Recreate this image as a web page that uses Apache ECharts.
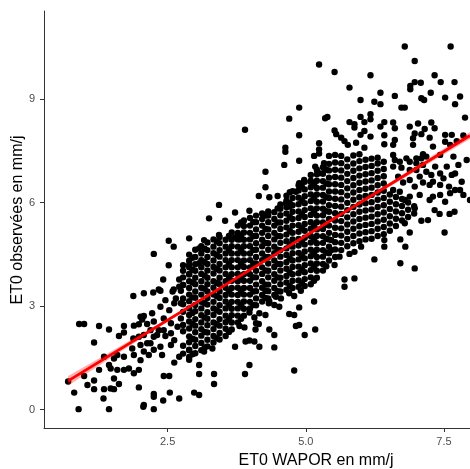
<!DOCTYPE html>
<html>
<head>
<meta charset="utf-8">
<script src="https://cdn.jsdelivr.net/npm/echarts@6/dist/echarts.min.js"></script>
<style>
html, body { margin: 0; padding: 0; background: #fff; }
#main { width: 470px; height: 469px; }
</style>
</head>
<body>
<div id="main"></div>
<script>
// ticks
var xTicks = [2.5, 5.0, 7.5];
var yTicks = [0, 3, 6, 9];

// points outside the dense core (ET0 WAPOR, ET0 observees)
var outerPoints = [
	[1.88,3.29],[2.07,3.37],[2.24,3.39],[2.37,3.44],[2.59,3.42],[2.74,3.44],
	[0.90,2.48],[0.99,2.48],[1.26,2.42],[1.44,2.32],[1.71,2.42],[1.89,2.43],[2.04,2.61],[2.01,2.69],[2.07,2.71],[2.22,2.79],[2.13,2.48],[1.98,2.47],
	[1.62,2.13],[1.71,2.23],[1.88,2.06],[1.98,2.11],[2.07,2.16],
	[1.17,1.94],[1.35,1.53],[1.53,1.48],[1.59,1.58],[1.71,1.53],[1.86,1.77],[1.89,1.58],[2.01,1.43],[2.07,1.68],[2.19,1.92],[2.25,1.73],[2.16,1.58],
	[1.44,1.29],[1.47,1.19],[1.59,1.15],[1.71,1.15],[1.80,1.19],[1.89,1.05],[1.98,1.15],[1.26,1.15],
	[0.99,0.97],[1.05,0.71],[1.17,0.59],[1.17,0.84],[1.35,0.59],[1.47,0.61],[1.53,0.59],[1.53,0.90],[1.62,0.74],
	[0.70,0.81],[0.81,0.49],[0.89,0.01],[1.34,0.32],[1.44,0.01],[1.98,0.64],[2.07,0.13],[2.06,0.08],[2.25,0.45],[2.25,0.37],[2.25,0.01],[2.42,0.26],[2.54,0.49],[2.71,0.32],
	[2.62,1.36],[2.71,1.53],[2.43,0.97],[2.53,0.97],
	[2.37,1.82],[2.40,1.58],[2.56,1.87],[2.62,2.01],[2.31,2.16],[2.46,2.13],[2.56,2.21],[2.43,2.30],[2.56,2.50],[2.68,2.40],[2.74,2.64],[2.43,2.64],[2.53,2.88],[2.62,3.08],[2.74,3.08],[2.65,3.22],[2.37,2.98],[2.46,3.17],
	[2.25,2.55],[2.34,2.30],[2.19,2.30],[2.25,2.11],[2.13,1.92],[2.01,1.87],
	[2.52,4.89],[2.61,4.72],[2.25,4.51],[2.52,4.18],[2.42,3.77],[2.71,3.77],[2.34,3.48],[2.61,3.48],[2.71,3.56],[2.78,3.61],
	[4.27,3.44],[4.46,3.27],[4.55,3.22],[4.70,3.37],[4.79,3.29],[4.91,3.44],[5.15,3.13],[4.33,3.08],[4.43,3.03],[4.52,2.98],[4.34,3.13],[4.88,2.96],[4.70,2.77],[4.79,2.74],
	[3.98,2.81],[4.07,2.67],[4.16,2.79],[4.27,2.74],[4.10,2.50],[4.15,2.48],[3.80,2.42],[3.89,2.38],[4.09,2.32],[4.34,2.32],[4.43,2.16],[4.82,2.42],[4.88,2.45],[5.17,2.32],[4.98,2.16],
	[3.91,1.97],[3.98,2.00],[4.07,1.97],[4.16,1.82],[4.43,1.80],[3.72,1.82],[3.31,1.77],[3.16,1.68],[2.89,1.72],[2.89,1.44],[3.07,1.29],[3.07,1.03],[3.34,1.03],[3.34,0.74],[3.90,1.03],[3.98,1.29],[4.79,1.13],[2.98,0.49],[3.07,0.42],
	[4.63,7.47],[5.15,7.35],[5.24,7.42],[4.61,7.09],[4.88,7.21],[5.17,7.04],[5.33,7.14],[4.27,6.89],[4.27,6.44],[4.15,6.19],[4.34,6.15],[4.49,6.19],[4.64,5.98],[4.70,5.88],
	[3.43,5.93],[3.72,5.71],[3.98,5.76],[3.25,5.54],[3.54,5.47],[2.89,4.96],[3.07,4.67],[3.16,4.91],[3.43,5.06],[3.72,4.99],[3.80,4.93],[2.89,4.19],[2.89,3.93],[3.07,4.24],
	[4.82,6.31],[4.88,6.56],[4.97,6.65],[5.09,6.60],[5.24,6.85],[5.33,6.99],
	[5.24,10.00],[4.88,8.75],[4.70,8.43],[5.35,8.44],[5.39,8.48],[3.90,8.11],[4.88,7.95],[4.63,7.59],[5.24,7.72],[5.24,7.54],
	[6.79,10.52],[7.62,10.52],[6.97,10.10],[5.52,9.78],[6.17,9.69],[7.33,9.69],[7.44,9.49],[7.69,9.49],[6.97,9.49],[7.08,9.47],[6.89,9.38],[6.89,9.28],[5.79,9.33],[6.35,9.18],[7.26,9.18],[6.61,9.09],
	[5.99,8.97],[6.24,8.92],[6.35,8.85],[5.99,8.48],[6.17,8.56],[6.17,8.41],[5.79,8.33],[5.88,8.27],[5.88,8.17],[6.06,8.33],[6.42,8.33],[5.52,8.09],[5.55,7.98],[5.64,7.88],[5.99,7.96],[6.06,8.07],[6.17,7.91],[6.35,8.20],[6.42,7.95],[5.70,7.78],[5.76,7.67],[5.91,7.73],[6.06,7.59],[6.42,7.69],
	[7.69,5.73],[7.60,5.67],[7.42,5.67],[7.51,5.13],[7.21,5.49],[7.09,5.47],[6.97,5.83],[6.88,5.13],[6.80,4.72],[6.71,4.93],[6.71,4.24],[6.97,4.09],[6.24,4.35],[5.88,4.57],[5.79,4.51],[5.61,4.43],[5.52,4.19],[5.70,3.77],[5.88,3.80],[5.70,3.56],[5.46,4.62],[5.46,4.91],[6.00,4.72],[6.42,4.72],[6.42,4.91],[6.79,5.40],[7.33,5.78],
	[7.09,9.02],[7.14,8.97],[7.52,9.04],[7.79,9.07],[7.70,8.85],[6.73,8.75],[6.79,8.75],[7.88,8.46],[6.58,8.32],[6.61,8.15],[6.88,8.20],[7.03,8.29],[7.15,8.13],[7.27,8.32],[7.33,8.15],[6.97,8.00],[7.09,7.98],[6.94,7.86],[7.24,7.88],[7.52,7.96],[7.64,7.96],[7.85,7.94],
	[6.61,7.81],[6.58,7.67],[6.94,7.67],[7.30,7.62],[7.52,7.76],[7.61,7.67],[7.73,7.78],[7.12,7.40],[7.09,7.28],[6.58,7.38],[6.61,7.23],[6.70,7.18],[6.82,7.28],[6.88,7.18],[7.00,7.14],[7.12,7.09],[7.43,7.38],[7.67,7.33],
	[6.58,7.04],[6.73,7.01],[7.00,6.94],[7.18,6.89],[7.27,6.80],[7.43,6.84],[7.49,6.70],[7.64,6.80],[7.70,6.84],[7.82,6.60],[7.06,6.75],[7.12,6.58],[6.76,6.58],[6.88,6.65],
	[6.58,6.36],[6.70,6.31],[6.97,6.46],[7.24,6.51],[7.43,6.51],[7.59,6.46],[7.70,6.36],[6.88,6.17],[7.06,6.22],[7.30,6.17],[7.43,6.22],[7.61,6.27],[7.85,6.22],[7.97,6.07],
	[7.00,7.28],[7.18,7.33],[6.88,6.94],[7.34,7.04],[7.55,7.04],[7.76,7.09],[7.91,7.23],[6.67,6.75],[7.30,6.60],[7.79,6.36],[6.79,6.07],[7.24,6.07],[7.52,6.02]
];

// dense core, read column by column: [ET0 WAPOR, [ET0 observees ...]]
var denseCols = [
	[2.78, [1.62,1.85,2.27,2.45,2.83,3.05,3.22,3.61,3.83,4.02,4.18]],
	[2.89, [1.52,1.73,1.95,2.12,2.35,2.55,2.74,2.93,3.14,3.33,3.52,3.72,3.91,4.12,4.31,4.49]],
	[2.95, [1.60,2.05,2.48,2.80,3.25,3.68,4.05,4.40]],
	[3.00, [1.63,1.84,2.02,2.24,2.43,2.62,2.85,3.03,3.24,3.42,3.63,3.82,4.02,4.21,4.42,4.63]],
	[3.11, [1.72,1.93,2.14,2.33,2.52,2.73,2.93,3.12,3.33,3.53,3.72,3.93,4.12,4.33,4.52,4.73]],
	[3.17, [1.80,2.25,2.67,3.08,3.50,3.88,4.27,4.66]],
	[3.22, [1.83,2.02,2.23,2.44,2.63,2.82,3.04,3.23,3.42,3.63,3.82,4.03,4.22,4.42,4.62,4.84]],
	[3.33, [1.94,2.13,2.33,2.52,2.74,2.93,3.12,3.33,3.53,3.72,3.94,4.13,4.32,4.53,4.72,4.93]],
	[3.39, [2.07,2.47,2.88,3.28,3.67,4.08,4.48,4.87]],
	[3.44, [2.03,2.22,2.43,2.62,2.83,3.02,3.23,3.42,3.63,3.82,4.03,4.22,4.43,4.62,4.82,5.00]],
	[3.55, [2.13,2.34,2.53,2.72,2.93,3.13,3.32,3.53,3.72,3.93,4.12,4.33,4.52,4.72,4.92]],
	[3.61, [2.25,2.62,3.03,3.43,3.82,4.22,4.62,5.03]],
	[3.66, [2.32,2.52,2.73,2.92,3.12,3.33,3.52,3.73,3.92,4.12,4.33,4.52,4.73,4.92,5.13]],
	[3.77, [2.52,2.72,2.93,3.12,3.32,3.53,3.72,3.93,4.12,4.33,4.52,4.72,4.93,5.12,5.33]],
	[3.83, [2.63,3.02,3.43,3.83,4.22,4.62,5.03,5.42]],
	[3.88, [2.72,2.92,3.13,3.33,3.52,3.73,3.92,4.13,4.32,4.52,4.73,4.92,5.13,5.32,5.48]],
	[3.99, [2.93,3.12,3.33,3.52,3.73,3.92,4.12,4.33,4.52,4.73,4.93,5.12,5.33,5.55]],
	[4.05, [3.03,3.42,3.83,4.23,4.62,5.02,5.43]],
	[4.10, [3.02,3.22,3.43,3.62,3.83,4.02,4.23,4.42,4.63,4.82,5.03,5.22,5.43,5.62]],
	[4.21, [3.13,3.32,3.53,3.72,3.93,4.12,4.33,4.52,4.73,4.92,5.12,5.33,5.52,5.68]],
	[4.27, [3.23,3.62,4.03,4.42,4.83,5.23,5.62]],
	[4.32, [3.22,3.43,3.62,3.83,4.02,4.23,4.42,4.63,4.82,5.03,5.22,5.43,5.62,5.74]],
	[4.43, [3.32,3.52,3.73,3.92,4.13,4.32,4.53,4.72,4.93,5.12,5.33,5.52,5.72]],
	[4.49, [3.43,3.83,4.22,4.63,5.03,5.42,5.83]],
	[4.54, [3.42,3.63,3.82,4.03,4.22,4.43,4.62,4.83,5.02,5.23,5.42,5.63,5.82,5.94]],
	[4.65, [3.47,3.68,3.87,4.08,4.27,4.48,4.67,4.88,5.07,5.28,5.47,5.68,5.87,6.05,6.20]],
	[4.71, [3.58,3.98,4.38,4.78,5.18,5.58,5.98,6.30]],
	[4.76, [3.52,3.73,3.92,4.13,4.32,4.53,4.72,4.93,5.12,5.33,5.52,5.73,5.92,6.13,6.33]],
	[4.87, [3.55,3.74,3.95,4.14,4.35,4.54,4.75,4.94,5.15,5.34,5.55,5.74,5.95,6.14,6.35,6.50]],
	[4.93, [3.65,4.05,4.45,4.85,5.25,5.65,6.05,6.45]],
	[4.98, [3.58,3.78,3.98,4.18,4.38,4.58,4.78,4.98,5.18,5.38,5.58,5.78,5.98,6.18,6.38,6.60]],
	[5.09, [3.63,3.83,4.04,4.23,4.44,4.63,4.84,5.03,5.24,5.43,5.64,5.83,6.04,6.23,6.44,6.63,6.80]],
	[5.15, [3.73,4.13,4.53,4.93,5.33,5.73,6.13,6.53]],
	[5.20, [3.82,4.02,4.23,4.42,4.63,4.82,5.03,5.22,5.43,5.62,5.83,6.02,6.23,6.42,6.63,6.82,6.95]],
	[5.31, [4.03,4.22,4.43,4.62,4.83,5.02,5.23,5.42,5.63,5.82,6.03,6.22,6.43,6.62,6.83,7.02]],
	[5.37, [4.15,4.55,4.95,5.35,5.75,6.15,6.55,6.95]],
	[5.42, [4.32,4.53,4.72,4.93,5.12,5.33,5.52,5.73,5.92,6.13,6.32,6.53,6.72,6.93,7.12,7.35]],
	[5.53, [4.42,4.64,4.85,5.06,5.27,5.48,5.69,5.90,6.11,6.32,6.53,6.74,6.95,7.16,7.38]],
	[5.64, [4.62,4.83,5.04,5.25,5.46,5.67,5.88,6.09,6.30,6.51,6.72,6.93,7.14,7.35]],
	[5.75, [4.73,4.94,5.15,5.36,5.57,5.78,5.99,6.20,6.41,6.62,6.83,7.04,7.25]],
	[5.86, [4.82,5.03,5.24,5.45,5.66,5.87,6.08,6.29,6.50,6.71,6.92,7.13,7.36]],
	[5.97, [4.88,5.10,5.31,5.52,5.73,5.94,6.15,6.36,6.57,6.78,6.99,7.20,7.40]],
	[6.08, [4.93,5.14,5.35,5.56,5.77,5.98,6.19,6.40,6.61,6.82,7.03,7.24]],
	[6.19, [4.95,5.17,5.38,5.59,5.80,6.01,6.22,6.43,6.64,6.85,7.06,7.27]],
	[6.30, [5.03,5.24,5.45,5.66,5.87,6.08,6.29,6.50,6.71,6.92,7.13,7.30]],
	[6.41, [5.08,5.29,5.50,5.71,5.92,6.13,6.34,6.55,6.76,6.97,7.18]],
	[6.52, [5.18,5.39,5.60,5.81,6.02,6.23]],
	[6.63, [5.32,5.53,5.74,5.95,6.16]],
	[6.74, [5.48,5.69,5.90,6.10]],
	[6.85, [5.58,5.79,6.00]],
	[6.96, [5.68,5.89]]
];

// regression line and its confidence band
var fitLine = [[0.70, 0.83], [7.97, 7.94]];
var bandX = [0.70, 1.50, 2.50, 3.50, 4.50, 5.50, 6.50, 7.97];
var bandLow = [0.69, 1.52, 2.54, 3.54, 4.52, 5.48, 6.44, 7.84];
var bandHigh = [0.97, 1.70, 2.64, 3.60, 4.58, 5.56, 6.56, 8.04];

var allPoints = outerPoints.slice();
denseCols.forEach(function (col) {
	col[1].forEach(function (y) { allPoints.push([col[0], y]); });
});

var myEchart = echarts.init(document.getElementById('main'));

var axisFont = 'Liberation Sans, Arial, sans-serif';

option = {
	animation: false,
	backgroundColor: '#FFFFFF',
	grid: { left: 44, top: 11, right: 0, bottom: 41 },
	xAxis: {
		type: 'value',
		min: 0.264,
		max: 7.97,
		splitLine: { show: false },
		axisLine: { onZero: false, lineStyle: { color: '#333', width: 1 } },
		axisTick: { customValues: xTicks, length: 4, lineStyle: { color: '#333' } },
		axisLabel: {
			customValues: xTicks,
			formatter: function (v) { return v.toFixed(1); },
			color: '#4d4d4d', fontSize: 11, fontFamily: axisFont, margin: 8
		}
	},
	yAxis: {
		type: 'value',
		min: -0.536,
		max: 11.55,
		splitLine: { show: false },
		axisLine: { onZero: false, lineStyle: { color: '#333', width: 1 } },
		axisTick: { customValues: yTicks, length: 4, lineStyle: { color: '#333' } },
		axisLabel: {
			customValues: yTicks,
			color: '#4d4d4d', fontSize: 11, fontFamily: axisFont, margin: 9
		}
	},
	graphic: [
		{
			type: 'text', x: 316, y: 461,
			style: { text: 'ET0 WAPOR en mm/j', fill: '#000', fontSize: 16, fontFamily: axisFont, textAlign: 'center', textVerticalAlign: 'middle' }
		},
		{
			type: 'text', x: 18, y: 220, rotation: Math.PI / 2,
			style: { text: 'ET0 observées en mm/j', fill: '#000', fontSize: 16, fontFamily: axisFont, textAlign: 'center', textVerticalAlign: 'middle' }
		}
	],
	series: [
		{
			name: 'points',
			type: 'scatter',
			symbol: 'circle',
			symbolSize: 6.4,
			itemStyle: { color: '#000', opacity: 1 },
			data: allPoints,
			z: 2
		},
		{
			name: 'bande',
			type: 'custom',
			data: bandX.map(function (x, i) { return [x, bandLow[i], bandHigh[i]]; }),
			encode: { x: 0, y: [1, 2] },
			renderItem: function (params, api) {
				if (params.dataIndex > 0) return;
				var pts = [];
				for (var i = 0; i < bandX.length; i++) pts.push(api.coord([bandX[i], bandHigh[i]]));
				for (var j = bandX.length - 1; j >= 0; j--) pts.push(api.coord([bandX[j], bandLow[j]]));
				return { type: 'polygon', shape: { points: pts }, style: { fill: 'rgba(255,0,0,0.3)' } };
			},
			silent: true,
			z: 3
		},
		{
			name: 'ajustement',
			type: 'line',
			data: fitLine,
			symbol: 'none',
			lineStyle: { color: '#ff0000', width: 2.8 },
			silent: true,
			z: 4
		}
	]
};

myEchart.setOption(option);
</script>
</body>
</html>
